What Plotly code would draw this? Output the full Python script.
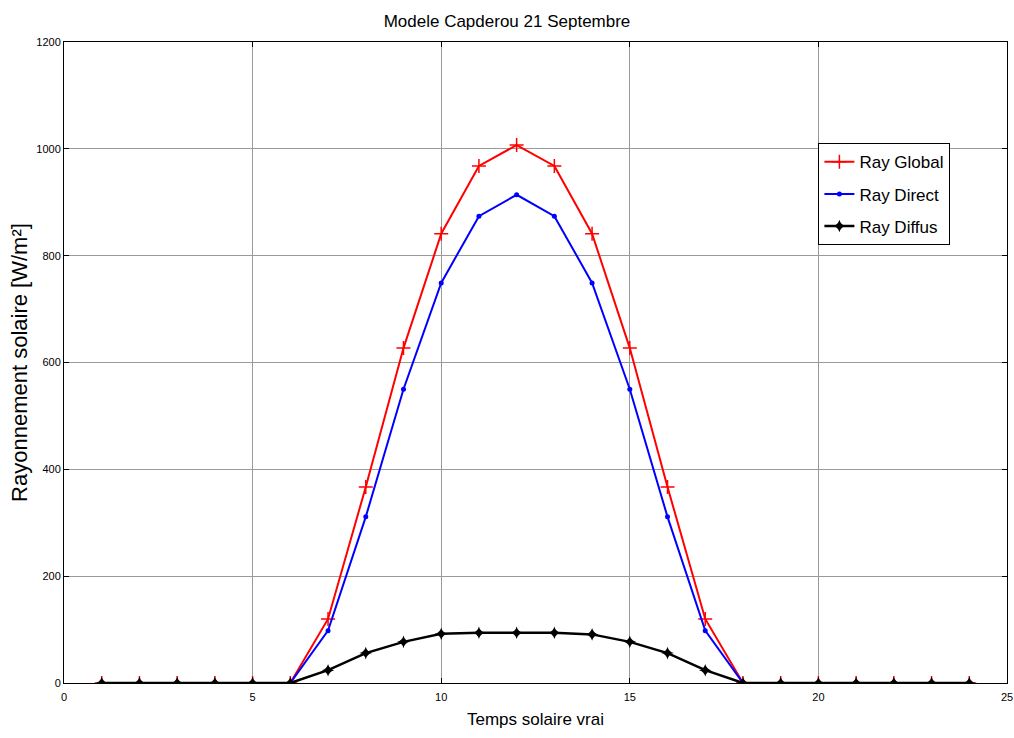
import plotly.graph_objects as go

hours = list(range(1, 25))
ray_global = [0, 0, 0, 0, 0, 0, 120, 367, 627, 841, 968, 1007, 968, 841, 627, 367, 120, 0, 0, 0, 0, 0, 0, 0]
ray_direct = [0, 0, 0, 0, 0, 0, 98, 311, 550, 749, 874, 914, 874, 749, 550, 311, 98, 0, 0, 0, 0, 0, 0, 0]
ray_diffus = [0, 0, 0, 0, 0, 0, 24, 56, 77, 92, 94, 94, 94, 91, 77, 56, 24, 0, 0, 0, 0, 0, 0, 0]

font_main = "Liberation Sans, Arial"

fig = go.Figure()
fig.add_trace(go.Scatter(x=hours, y=ray_global, name="Ray Global", mode="lines+markers", legendgroup="g1",
                         line=dict(color="#ff0000", width=2),
                         marker=dict(symbol="cross-thin-open", size=10, line=dict(color="#ff0000", width=1.5))))
fig.add_trace(go.Scatter(x=hours, y=ray_direct, name="Ray Direct", mode="lines+markers", legendgroup="g2",
                         line=dict(color="#0000ff", width=2),
                         marker=dict(symbol="circle", size=5, color="#0000ff")))
fig.add_trace(go.Scatter(x=hours, y=ray_diffus, name="Ray Diffus", mode="lines+markers", legendgroup="g3",
                         line=dict(color="#000000", width=2.5),
                         marker=dict(symbol="star-diamond", size=9, color="#000000")))

axis_common = dict(showline=True, linecolor="black", linewidth=1, mirror="ticks",
                   ticks="inside", ticklen=5, tickcolor="black", automargin=False,
                   showgrid=True, gridcolor="#9a9a9a", gridwidth=1, zeroline=False,
                   tickfont=dict(family=font_main, size=11, color="black"))

fig.update_layout(
    width=1014, height=738,
    paper_bgcolor="white", plot_bgcolor="white",
    margin=dict(l=64, r=7, t=42, b=55),
    title=dict(text="Modele Capderou 21 Septembre", x=0.5, xanchor="center", y=0.98, yanchor="top",
               font=dict(family=font_main, size=17, color="black")),
    xaxis=dict(range=[0, 25], dtick=5, tick0=0, ticklabelstandoff=4,
               title=dict(text="Temps solaire vrai", font=dict(family=font_main, size=17, color="black"), standoff=10),
               **axis_common),
    yaxis=dict(range=[0, 1200], dtick=200, tick0=0,
               title=dict(text="Rayonnement solaire [W/m²]", font=dict(family=font_main, size=22, color="black"), standoff=2),
               **axis_common),
    legend=dict(x=0.800, y=0.842, xanchor="left", yanchor="top",
                bgcolor="white", bordercolor="black", borderwidth=1,
                font=dict(family=font_main, size=17, color="black"),
                tracegroupgap=7, itemwidth=30),
    showlegend=True,
)

fig.write_html("out.html")
